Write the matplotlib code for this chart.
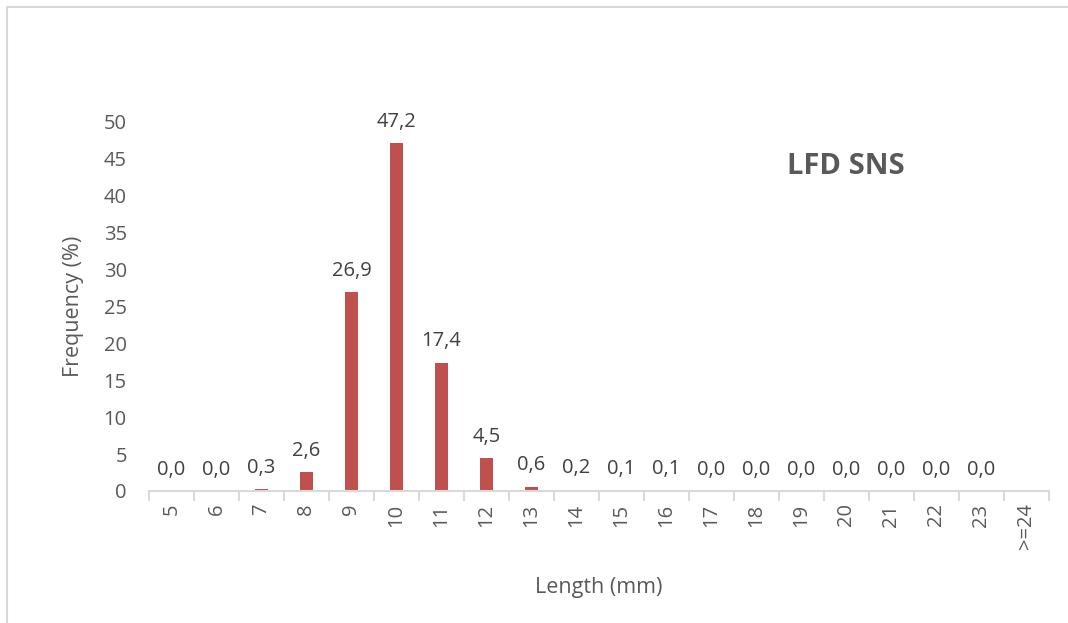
import matplotlib.pyplot as plt
from matplotlib.patches import Rectangle
import numpy as np

plt.rcParams['font.family'] = ['Open Sans', 'DejaVu Sans']

categories = ['5', '6', '7', '8', '9', '10', '11', '12', '13', '14', '15',
              '16', '17', '18', '19', '20', '21', '22', '23', '>=24']
freq = [0.0, 0.0, 0.3, 2.6, 26.9, 47.2, 17.4, 4.5, 0.6, 0.2, 0.1,
        0.1, 0.0, 0.0, 0.0, 0.0, 0.0, 0.0, 0.0, 0.0]
# last category has no data label in the original
show_label = [True] * 19 + [False]

txt = '#595959'
grid = '#d9d9d9'

fig = plt.figure(figsize=(10.68, 6.23), dpi=100)
fig.patches.append(Rectangle((0.0065, -0.05), 1.05, 1.039, transform=fig.transFigure,
                             fill=False, edgecolor=grid, linewidth=1.5))
ax = fig.add_axes([0.1395, 0.2119, 0.8427, 0.5923])

x = np.arange(len(categories))
ax.bar(x, freq, width=0.31, color='#c0504d')
for xi, v, s in zip(x, freq, show_label):
    if s:
        ax.annotate(f'{v:.1f}'.replace('.', ','), (xi, v), xytext=(0, 8),
                    textcoords='offset points', ha='center', va='bottom',
                    fontsize=14.5, color='#404040')

ax.set_xlim(-0.5, len(categories) - 0.5)
ax.set_ylim(0, 50)
ax.set_yticks(np.arange(0, 51, 5))
ax.set_xticks(x)
ax.set_xticklabels(categories, rotation=90)
ax.set_xticks(np.arange(-0.5, len(categories), 1), minor=True)
ax.tick_params(axis='x', which='major', length=0, pad=9, labelsize=14.5, labelcolor=txt)
ax.tick_params(axis='x', which='minor', length=7, width=1.5, color=grid)
ax.tick_params(axis='y', length=0, pad=16, labelsize=14.5, labelcolor=txt)
for sp in ['top', 'right', 'left']:
    ax.spines[sp].set_visible(False)
ax.spines['bottom'].set_color(grid)
ax.spines['bottom'].set_linewidth(1.5)

ax.set_ylabel('Frequency (%)', fontsize=15.5, color=txt, labelpad=14)
ax.set_xlabel('Length (mm)', fontsize=15.5, color=txt, labelpad=20)
ax.text(0.774, 0.88, 'LFD SNS', transform=ax.transAxes, fontsize=21,
        fontweight='bold', color=txt, ha='center', va='center')

fig.savefig('out.png', dpi=100)
